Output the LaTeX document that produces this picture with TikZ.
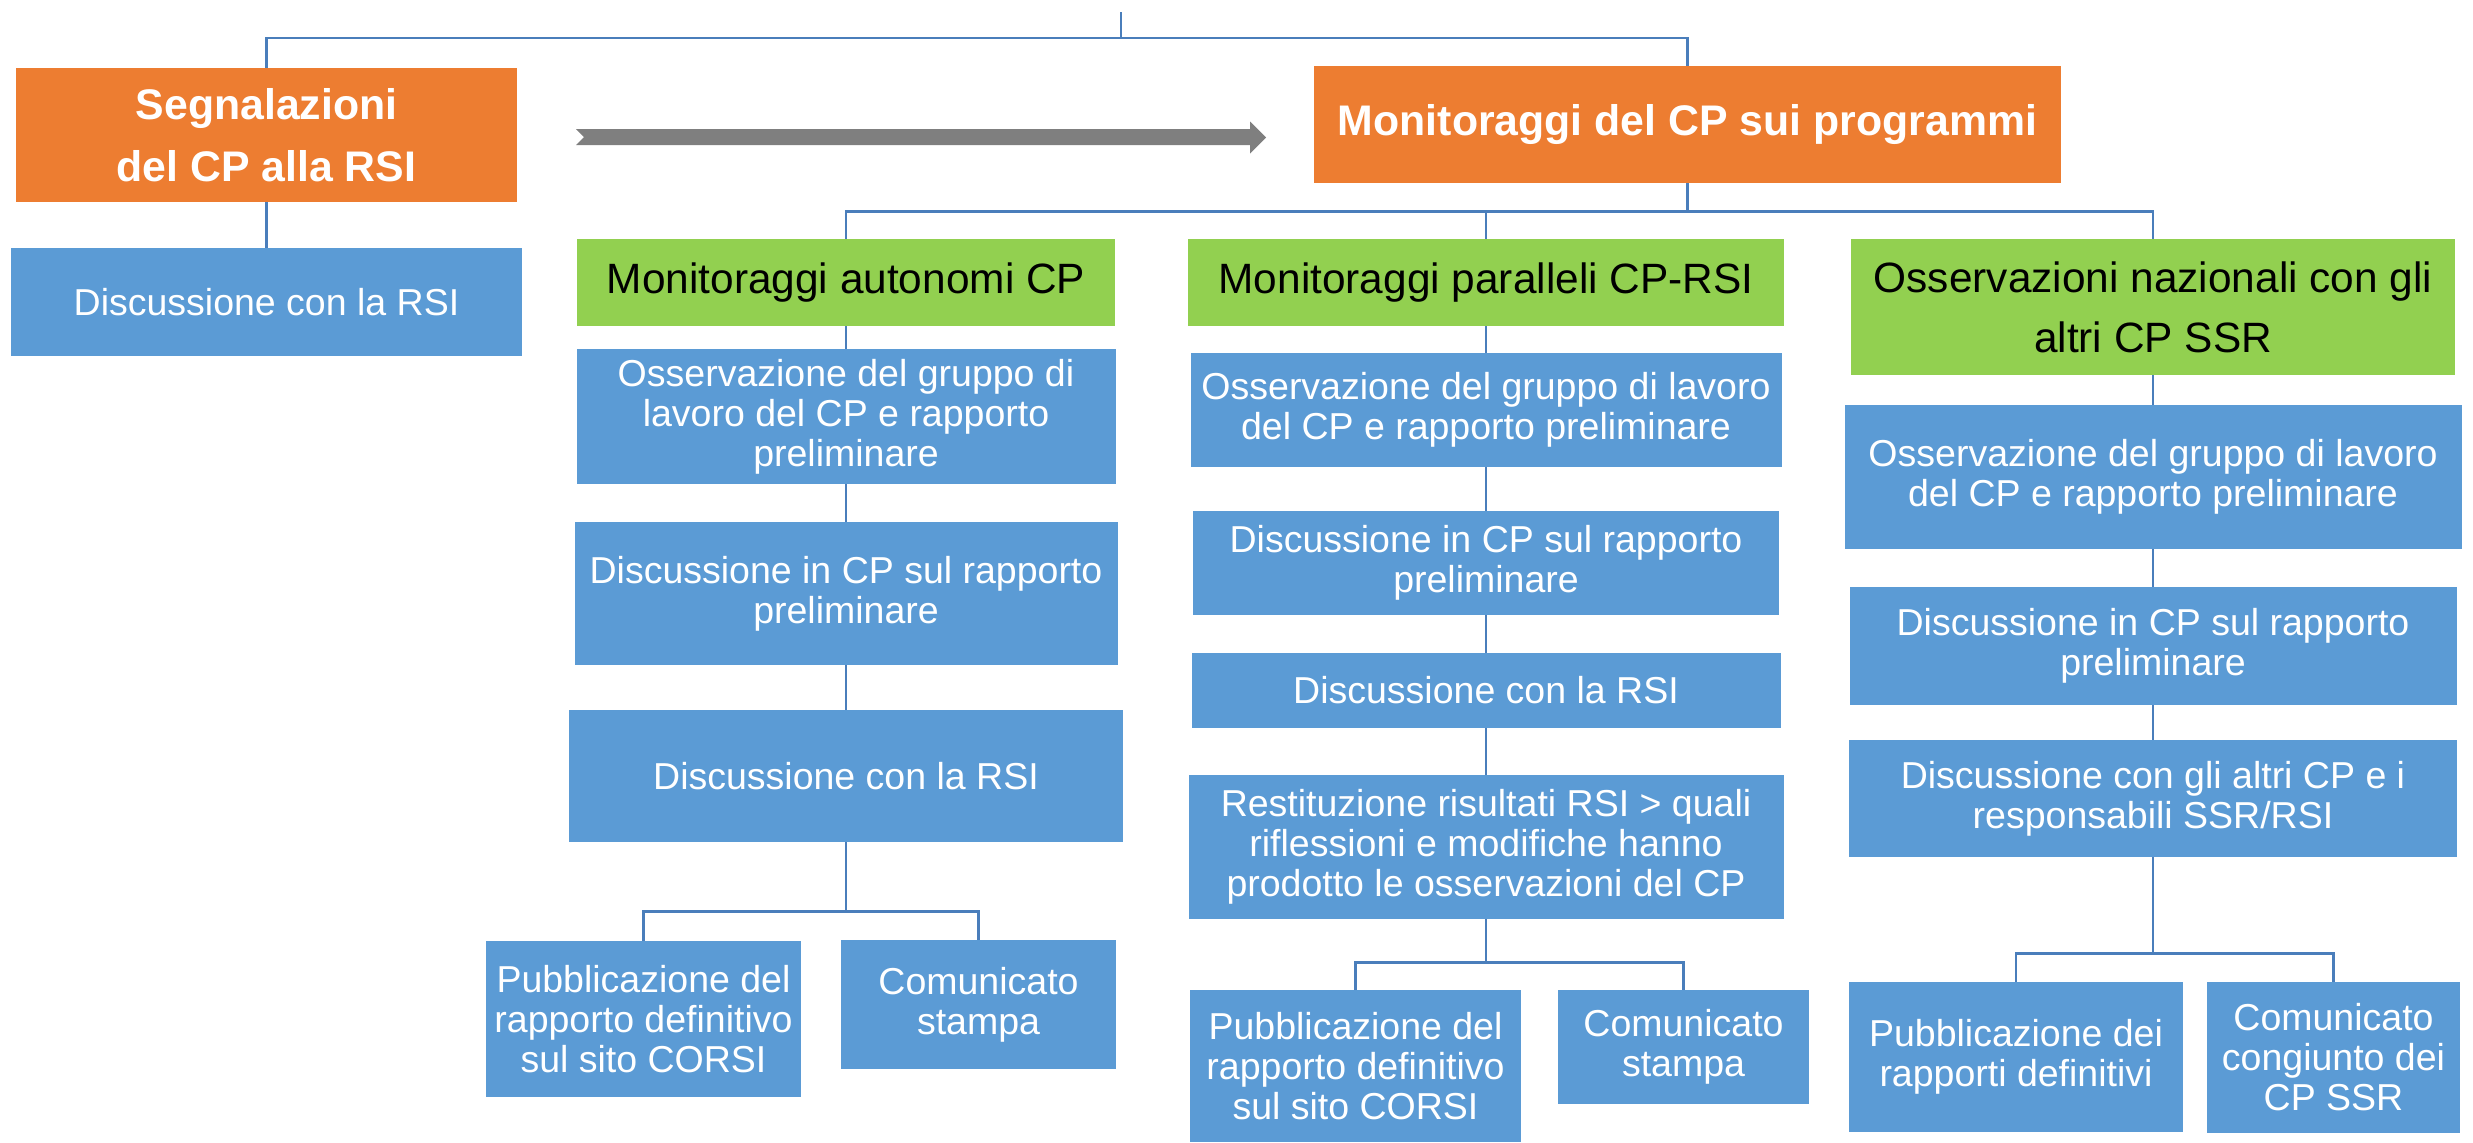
\documentclass[tikz,border=0pt]{standalone}
\usepackage{fontspec}
\setmainfont{Liberation Sans}
\definecolor{org}{HTML}{ED7D31}
\definecolor{blu}{HTML}{5B9BD5}
\definecolor{grn}{HTML}{92D050}
\definecolor{lnk}{HTML}{4A7EBB}
\definecolor{arrg}{HTML}{7F7F7F}
\tikzset{
 box/.style={inner sep=0pt, align=center, anchor=center},
 obox/.style={box, fill=org, text=white, font=\fontsize{21.4}{31}\selectfont\bfseries},
 gbox/.style={box, fill=grn, text=black, font=\fontsize{21.2}{30}\selectfont},
 bbox/.style={box, fill=blu, text=white, font=\fontsize{18.75}{20}\selectfont},
 link/.style={draw=lnk, line width=1.35pt},
 sz/.style 2 args={minimum width=#1pt, minimum height=#2pt}
}
\begin{document}
\begin{tikzpicture}[x=0.5pt,y=-0.5pt]
\useasboundingbox (0,0) rectangle (2473,1142);
% orange
\node[obox, sz={250.5}{67}] (o1) at (266.5,135) {Segnalazioni\\del CP alla RSI};
\node[obox, sz={373.5}{58.5}] (o2) at (1687.5,124.5) {Monitoraggi del CP sui programmi};
% left column
\node[bbox, sz={255.5}{54}] (d0) at (266.5,302) {Discussione con la RSI};
% green
\node[gbox, sz={269}{43.5}] (g1) at (846,282.5) {Monitoraggi autonomi CP};
\node[gbox, sz={298}{43.5}] (g2) at (1486,282.5) {Monitoraggi paralleli CP-RSI};
\node[gbox, sz={302}{68}] (g3) at (2153,307) {Osservazioni nazionali con gli\\altri CP SSR};
% column 1
\node[bbox, sz={269.5}{67.5}] (c1a) at (846,416.5) {Osservazione del gruppo di\\lavoro del CP e rapporto\\preliminare};
\node[bbox, sz={271.5}{71.5}] (c1b) at (846,593.5) {Discussione in CP sul rapporto\\preliminare};
\node[bbox, sz={277}{66}] (c1c) at (846,776) {Discussione con la RSI};
\node[bbox, sz={157.5}{78}] (c1d) at (643.5,1019) {Pubblicazione del\\rapporto definitivo\\sul sito CORSI};
\node[bbox, sz={137.5}{64.5}] (c1e) at (978.5,1004.5) {Comunicato\\stampa};
% column 2
\node[bbox, sz={295.5}{57}] (c2a) at (1486,410) {Osservazione del gruppo di lavoro\\del CP e rapporto preliminare};
\node[bbox, sz={293}{52}] (c2b) at (1486,563) {Discussione in CP sul rapporto\\preliminare};
\node[bbox, sz={294.5}{37.5}] (c2c) at (1486,690.5) {Discussione con la RSI};
\node[bbox, sz={297.5}{72}] (c2d) at (1486,847) {Restituzione risultati RSI > quali\\riflessioni e modifiche hanno\\prodotto le osservazioni del CP};
\node[bbox, sz={165.5}{76}] (c2e) at (1355.5,1066) {Pubblicazione del\\rapporto definitivo\\sul sito CORSI};
\node[bbox, sz={125.5}{57}] (c2f) at (1683.5,1047) {Comunicato\\stampa};
% column 3
\node[bbox, sz={308.5}{72}] (c3a) at (2153,477) {Osservazione del gruppo di lavoro\\del CP e rapporto preliminare};
\node[bbox, sz={303.5}{59}] (c3b) at (2153,646) {Discussione in CP sul rapporto\\preliminare};
\node[bbox, sz={304}{58.5}] (c3c) at (2153,798.5) {Discussione con gli altri CP e i\\responsabili SSR/RSI};
\node[bbox, sz={167}{75}] (c3d) at (2016,1057) {Pubblicazione dei\\rapporti definitivi};
\node[bbox, sz={126.5}{75.5}] (c3e) at (2333.5,1057.5) {Comunicato\\congiunto dei\\CP SSR};
% gray block arrow
\fill[arrg] (576,129) -- (1250,129) -- (1250,121.5) -- (1266,137.5) -- (1250,153.5) -- (1250,145) -- (576,145) -- (584,137) -- cycle;
% connectors
\coordinate (t0) at (1121,12);
\coordinate (t1) at (1121,38);
\draw[link] (t0) -- (t1) -| (o1.north);
\draw[link] (t1) -| (o2.north);
\draw[link] (o1.south) -- (d0.north);
\draw[link] (o2.south) -- ++(0,28) coordinate (m1);
\draw[link] (m1) -| (g1.north);
\draw[link] (m1) -| (g2.north);
\draw[link] (m1) -| (g3.north);
\draw[link] (g1.south) -- (c1a.north);
\draw[link] (c1a.south) -- (c1b.north);
\draw[link] (c1b.south) -- (c1c.north);
\draw[link] (c1c.south) -- ++(0,69) coordinate (m2);
\draw[link] (m2) -| (c1d.north);
\draw[link] (m2) -| (c1e.north);
\draw[link] (g2.south) -- (c2a.north);
\draw[link] (c2a.south) -- (c2b.north);
\draw[link] (c2b.south) -- (c2c.north);
\draw[link] (c2c.south) -- (c2d.north);
\draw[link] (c2d.south) -- ++(0,43) coordinate (m3);
\draw[link] (m3) -| (c2e.north);
\draw[link] (m3) -| (c2f.north);
\draw[link] (g3.south) -- (c3a.north);
\draw[link] (c3a.south) -- (c3b.north);
\draw[link] (c3b.south) -- (c3c.north);
\draw[link] (c3c.south) -- ++(0,96) coordinate (m4);
\draw[link] (m4) -| (c3d.north);
\draw[link] (m4) -| (c3e.north);
\end{tikzpicture}
\end{document}
